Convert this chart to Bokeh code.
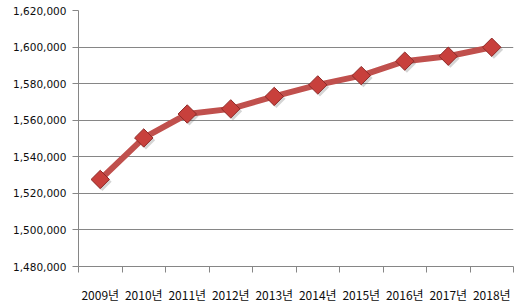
import math
from bokeh.plotting import figure
from bokeh.models import Range1d, FixedTicker, NumeralTickFormatter, ColumnDataSource
from bokeh.embed import file_html
from bokeh.resources import INLINE

years = ["2009년", "2010년", "2011년", "2012년", "2013년", "2014년", "2015년", "2016년", "2017년", "2018년"]
values = [1527600, 1550300, 1563400, 1566200, 1573000, 1579300, 1584400, 1592300, 1595000, 1599900]
y_ticks = [1480000, 1500000, 1520000, 1540000, 1560000, 1580000, 1600000, 1620000]

xs = [i + 0.5 for i in range(len(years))]
src = ColumnDataSource(dict(x=xs, y=values))
shadow = ColumnDataSource(dict(x=[x + 0.05 for x in xs], y=[v - 1300 for v in values]))

p = figure(width=519, height=306, output_backend="svg", toolbar_location=None,
           x_range=Range1d(0, len(years)), y_range=Range1d(y_ticks[0], y_ticks[-1]),
           min_border_left=78, min_border_right=6, min_border_top=10, min_border_bottom=40)
p.outline_line_color = None
p.background_fill_color = "white"
p.border_fill_color = "white"

grid_col = "#868686"

p.xgrid.grid_line_color = None
p.ygrid.grid_line_color = grid_col
p.ygrid.grid_line_width = 1

p.yaxis.ticker = FixedTicker(ticks=y_ticks)
p.yaxis.formatter = NumeralTickFormatter(format="0,0")
p.yaxis.axis_line_color = grid_col
p.yaxis.major_tick_line_color = grid_col
p.yaxis.major_tick_out = 6
p.yaxis.major_tick_in = 0
p.yaxis.minor_tick_line_color = None
p.yaxis.major_label_text_font = "DejaVu Sans"
p.yaxis.major_label_text_font_size = "10.5px"
p.yaxis.major_label_text_color = "#0d0d0d"
p.yaxis.major_label_standoff = 6

p.xaxis.ticker = FixedTicker(ticks=xs, minor_ticks=list(range(len(years) + 1)))
p.xaxis.major_label_overrides = {x: y for x, y in zip(xs, years)}
p.xaxis.axis_line_color = grid_col
p.xaxis.major_tick_line_color = None
p.xaxis.major_tick_out = 0
p.xaxis.major_tick_in = 0
p.xaxis.minor_tick_line_color = grid_col
p.xaxis.minor_tick_out = 6
p.xaxis.minor_tick_in = 0
p.xaxis.major_label_text_font = "Noto Sans CJK KR"
p.xaxis.major_label_text_font_size = "12px"
p.xaxis.major_label_text_color = "#0d0d0d"
p.xaxis.major_label_standoff = 13

p.line("x", "y", source=src, line_color="#C0504D", line_width=6)
p.scatter("x", "y", source=shadow, marker="square", angle=math.pi / 4, size=13,
          fill_color="#555555", fill_alpha=0.25, line_color=None)
p.scatter("x", "y", source=src, marker="square", angle=math.pi / 4, size=13,
          fill_color="#C8403C", line_color="#8E2A28", line_width=1)

open("out.html", "w").write(file_html(p, INLINE))
